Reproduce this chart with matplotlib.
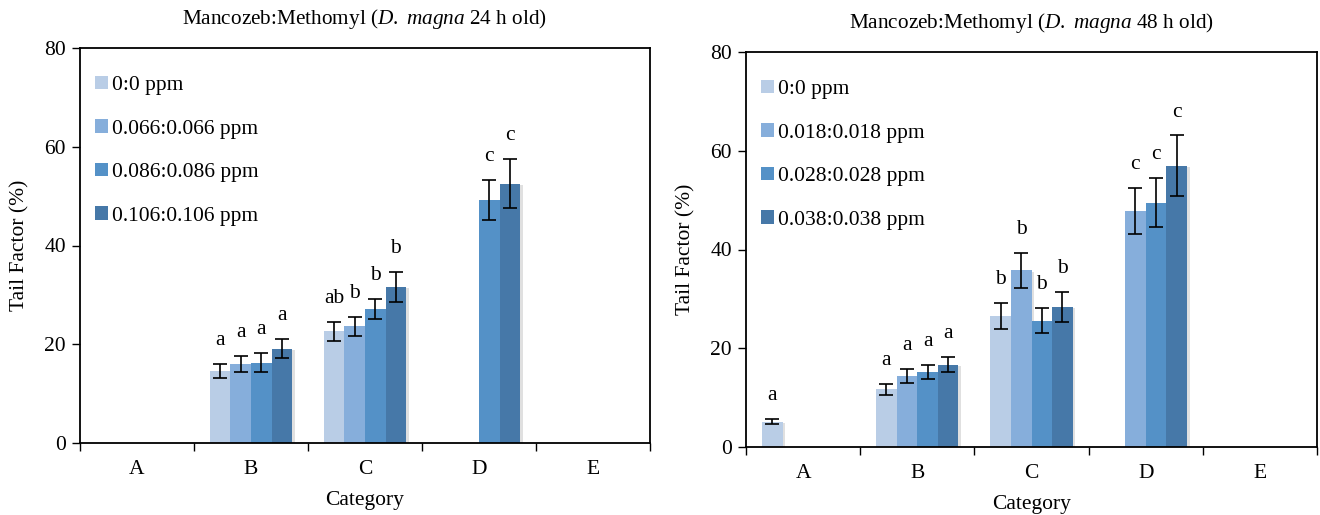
import numpy as np
import matplotlib
matplotlib.use("Agg")
import matplotlib.pyplot as plt
import matplotlib.patheffects as pe
from matplotlib.patches import Patch

plt.rcParams['font.family'] = ['Liberation Serif', 'DejaVu Serif']
plt.rcParams['mathtext.fontset'] = 'custom'
plt.rcParams['mathtext.rm'] = 'Liberation Serif'
plt.rcParams['mathtext.it'] = 'Liberation Serif:italic'

categories = ['A', 'B', 'C', 'D', 'E']
y_ticks = [0, 20, 40, 60, 80]

# ---- Left chart: 24 h old ----
left_title = r"Mancozeb:Methomyl ($\mathit{D.\ magna}$ 24 h old)"
left_series = ['0:0 ppm', '0.066:0.066 ppm', '0.086:0.086 ppm', '0.106:0.106 ppm']
left_s0 = [0, 14.6, 22.6, 0, 0]
left_s1 = [0, 16.0, 23.6, 0, 0]
left_s2 = [0, 16.3, 27.2, 49.2, 0]
left_s3 = [0, 19.1, 31.6, 52.5, 0]
left_e0 = [0, 1.5, 2.0, 0, 0]
left_e1 = [0, 1.6, 2.0, 0, 0]
left_e2 = [0, 2.0, 2.0, 4.0, 0]
left_e3 = [0, 1.9, 3.0, 5.0, 0]
left_l0 = ['', 'a', 'ab', '', '']
left_l1 = ['', 'a', 'b', '', '']
left_l2 = ['', 'a', 'b', 'c', '']
left_l3 = ['', 'a', 'b', 'c', '']

# ---- Right chart: 48 h old ----
right_title = r"Mancozeb:Methomyl ($\mathit{D.\ magna}$ 48 h old)"
right_series = ['0:0 ppm', '0.018:0.018 ppm', '0.028:0.028 ppm', '0.038:0.038 ppm']
right_s0 = [5.1, 11.7, 26.5, 0, 0]
right_s1 = [0, 14.4, 35.8, 47.8, 0]
right_s2 = [0, 15.2, 25.6, 49.5, 0]
right_s3 = [0, 16.7, 28.4, 57.0, 0]
right_e0 = [0.5, 1.1, 2.6, 0, 0]
right_e1 = [0, 1.4, 3.5, 4.7, 0]
right_e2 = [0, 1.5, 2.5, 5.0, 0]
right_e3 = [0, 1.6, 3.0, 6.1, 0]
right_l0 = ['a', 'a', 'b', '', '']
right_l1 = ['', 'a', 'b', 'c', '']
right_l2 = ['', 'a', 'b', 'c', '']
right_l3 = ['', 'a', 'b', 'c', '']

colors = ['#B9CDE6', '#86AEDB', '#5491C7', '#4678A8']
FS = 15.5

fig = plt.figure(figsize=(13.2, 5.15), dpi=100)
ax1 = fig.add_axes([80/1320, 1-443/515, 570/1320, 395/515])
ax2 = fig.add_axes([746/1320, 1-447/515, 571/1320, 395/515])


def draw(ax, title, series, means, errs, letters):
    n = len(series)
    x = np.arange(len(categories))
    bw = 0.18
    for i in range(n):
        xs = x + (i - (n - 1) / 2) * bw
        bars = ax.bar(xs, means[i], width=bw, color=colors[i], zorder=2)
        for b in bars:
            b.set_path_effects([pe.SimplePatchShadow(offset=(2, -1),
                                                     shadow_rgbFace='#999999',
                                                     alpha=0.3),
                                pe.Normal()])
        m = np.array(means[i], dtype=float)
        e = np.array(errs[i], dtype=float)
        mask = e > 0
        ax.errorbar(xs[mask], m[mask], yerr=e[mask], fmt='none', ecolor='black',
                    elinewidth=1.2, capsize=5, capthick=1.2, zorder=3)
        for j, lab in enumerate(letters[i]):
            if lab:
                ax.annotate(lab, (xs[j], m[j] + e[j]), xytext=(0, 10),
                            textcoords='offset points', ha='center', va='bottom',
                            fontsize=FS)
    ax.set_xlim(-0.5, len(categories) - 0.5)
    ax.set_ylim(0, 80)
    ax.set_yticks(y_ticks)
    ax.tick_params(axis='y', labelsize=FS, length=6, width=1, direction='out', pad=4)
    ax.set_xticks(np.arange(len(categories) + 1) - 0.5)
    ax.set_xticklabels([])
    ax.set_xticks(np.arange(len(categories)), minor=True)
    ax.set_xticklabels(categories, minor=True)
    ax.tick_params(axis='x', which='major', length=6, width=1, direction='out')
    ax.tick_params(axis='x', which='minor', length=0, labelsize=FS, pad=12)
    for s in ax.spines.values():
        s.set_linewidth(1.3)
        s.set_color('black')
    ax.set_title(title, fontsize=15.3, pad=17)
    ax.set_xlabel('Category', fontsize=FS, labelpad=9)
    ax.set_ylabel('Tail Factor (%)', fontsize=FS, labelpad=11)
    handles = [Patch(facecolor=colors[i], edgecolor='none') for i in range(n)]
    ax.legend(handles, series, loc='upper left', bbox_to_anchor=(0.026, 0.93),
              frameon=False, fontsize=FS, handlelength=0.6, handleheight=0.6,
              handletextpad=0.2, labelspacing=1.12, borderaxespad=0,
              borderpad=0)


draw(ax1, left_title, left_series,
     [left_s0, left_s1, left_s2, left_s3],
     [left_e0, left_e1, left_e2, left_e3],
     [left_l0, left_l1, left_l2, left_l3])
draw(ax2, right_title, right_series,
     [right_s0, right_s1, right_s2, right_s3],
     [right_e0, right_e1, right_e2, right_e3],
     [right_l0, right_l1, right_l2, right_l3])

fig.savefig('out.png', dpi=100)
